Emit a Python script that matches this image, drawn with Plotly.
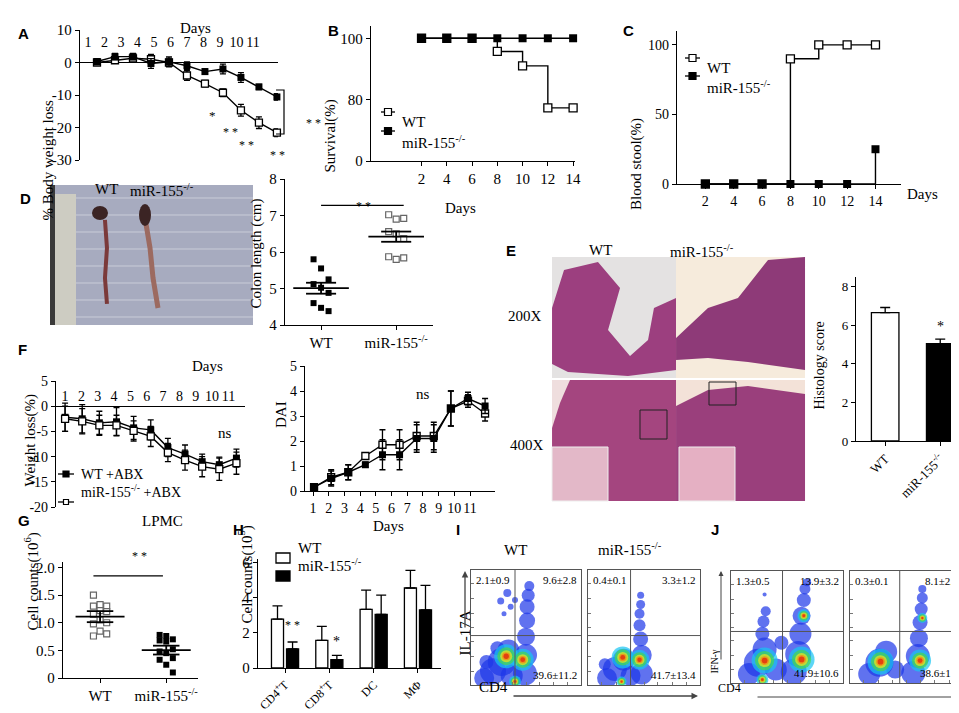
import numpy as np
import plotly.graph_objects as go

W, H = 959, 713

# ---------------- data ----------------
# A  body weight change (%)
a_days = [1, 2, 3, 4, 5, 6, 7, 8, 9, 10, 11]
a_wt = [0.0, 0.7, 1.3, 1.0, 0.0, -4.0, -6.5, -9.3, -14.7, -18.5, -21.6]
a_wt_err = [0.5, 0.5, 0.6, 1.5, 1.0, 1.5, 1.0, 1.2, 1.8, 1.8, 1.2]
a_ko = [0.3, 1.8, 1.8, -0.3, 0.2, -1.0, -2.8, -2.0, -4.6, -7.5, -10.6]
a_ko_err = [0.8, 1.0, 1.0, 1.5, 1.5, 1.2, 0.8, 1.5, 1.5, 0.8, 1.0]

# B  survival (%)
b_days = [2, 4, 6, 8, 10, 12, 14]
b_wt = [100, 100, 100, 95.7, 91, 77.3, 77.3]
b_ko = [100, 100, 100, 100, 100, 100, 100]

# C  blood stool (%)
c_days = [2, 4, 6, 8, 10, 12, 14]
c_wt = [0, 0, 0, 90, 100, 100, 100]
c_ko = [0, 0, 0, 0, 0, 0, 25]

# D  colon length (cm)
groups = ["WT", "miR-155<sup>-/-</sup>"]
d_wt = [5.8, 5.55, 5.25, 5.12, 5.02, 4.88, 4.6, 4.47, 4.38]
d_ko = [7.02, 6.9, 6.92, 6.56, 6.5, 6.37, 5.87, 5.8, 5.84]
d_sem = [0.15, 0.14]

# E  histology score
e_score = [6.65, 5.05]
e_err = [0.27, 0.23]

# F  weight loss with ABX (%) and DAI
f_days = [1, 2, 3, 4, 5, 6, 7, 8, 9, 10, 11]
f_wt = [-2.2, -2.5, -3.3, -3.1, -4.3, -4.7, -8.2, -9.5, -11.0, -11.6, -10.3]
f_wt_err = [2.8, 2.8, 2.3, 2.8, 2.3, 2.0, 1.8, 1.8, 1.5, 1.5, 1.8]
f_ko = [-2.5, -3.0, -3.8, -3.8, -4.9, -6.0, -9.2, -10.7, -12.0, -12.5, -11.3]
f_ko_err = [2.5, 2.5, 2.0, 2.0, 2.0, 2.0, 1.8, 2.0, 2.0, 2.2, 2.2]
dai_wt = [0.15, 0.5, 0.75, 1.05, 1.45, 1.45, 2.1, 2.1, 3.3, 3.7, 3.4]
dai_ko = [0.15, 0.55, 0.75, 1.4, 1.85, 1.85, 2.2, 2.2, 3.3, 3.6, 3.1]
dai_err = [0.05, 0.3, 0.3, 0.1, 0.6, 0.6, 0.55, 0.55, 0.7, 0.25, 0.3]

# G  LPMC counts (10^6)
g_wt = [1.5, 1.33, 1.3, 1.3, 1.22, 1.2, 1.15, 1.05, 1.0, 0.98, 0.85, 0.8, 0.76]
g_ko = [0.78, 0.76, 0.7, 0.68, 0.66, 0.52, 0.48, 0.45, 0.36, 0.33, 0.24, 0.1]
g_sem = [0.1, 0.08]

# H  cell counts (10^5)
h_cells = ["CD4<sup>+</sup>T", "CD8<sup>+</sup>T", "DC", "MΦ"]
h_wt = [2.78, 1.57, 3.33, 4.55]
h_wt_err = [0.75, 0.8, 1.1, 1.0]
h_ko = [1.08, 0.47, 3.05, 3.3]
h_ko_err = [0.4, 0.25, 1.1, 1.4]

# I / J  flow quadrant percentages (UL, UR, LR)
i_wt_q = ["2.1±0.9", "9.6±2.8", "39.6±11.2"]
i_ko_q = ["0.4±0.1", "3.3±1.2", "41.7±13.4"]
j_wt_q = ["1.3±0.5", "13.9±3.2", "41.9±10.6"]
j_ko_q = ["0.3±0.1", "8.1±2.1", "38.6±11."]

# density blobs seen in the flow plots: (x, y, size) in gate units
i_wt_blue = [(0.12, 0.06, 20), (0.2, 0.12, 26), (0.28, 0.2, 28), (0.34, 0.3, 22), (0.14, 0.2, 14),
             (0.24, 0.32, 14), (0.37, 0.08, 22), (0.49, 0.1, 24), (0.5, 0.26, 22), (0.5, 0.42, 18),
             (0.51, 0.56, 16), (0.51, 0.68, 15), (0.52, 0.78, 13), (0.53, 0.86, 10),
             (0.27, 0.73, 7), (0.33, 0.8, 8), (0.36, 0.68, 6), (0.4, 0.74, 6), (0.3, 0.62, 5)]
i_wt_core = [(0.32, 0.25, 24), (0.47, 0.22, 22), (0.4, 0.03, 12)]
i_ko_blue = [(0.17, 0.06, 20), (0.24, 0.14, 24), (0.32, 0.22, 22), (0.15, 0.18, 12), (0.38, 0.08, 20),
             (0.48, 0.1, 22), (0.48, 0.26, 20), (0.47, 0.4, 15), (0.46, 0.52, 12), (0.46, 0.62, 10),
             (0.47, 0.7, 9), (0.47, 0.78, 7)]
i_ko_core = [(0.31, 0.24, 22), (0.46, 0.22, 20), (0.3, 0.03, 10)]
j_wt_blue = [(0.16, 0.08, 22), (0.24, 0.18, 28), (0.3, 0.3, 24), (0.28, 0.44, 14), (0.29, 0.55, 12),
             (0.31, 0.64, 10), (0.4, 0.12, 22), (0.56, 0.1, 26), (0.6, 0.26, 26), (0.62, 0.44, 22),
             (0.63, 0.6, 18), (0.65, 0.74, 14), (0.66, 0.84, 11), (0.68, 0.9, 8), (0.45, 0.36, 14),
             (0.3, 0.79, 4)]
j_wt_core = [(0.3, 0.2, 26), (0.63, 0.21, 26), (0.65, 0.6, 13), (0.28, 0.03, 12)]
j_ko_blue = [(0.17, 0.08, 22), (0.26, 0.18, 28), (0.32, 0.28, 22), (0.4, 0.12, 18), (0.56, 0.09, 24),
             (0.6, 0.24, 24), (0.61, 0.4, 18), (0.62, 0.54, 15), (0.63, 0.66, 13), (0.64, 0.76, 11),
             (0.64, 0.84, 8)]
j_ko_core = [(0.27, 0.19, 26), (0.62, 0.2, 22), (0.64, 0.58, 10)]

# ---------------- helpers ----------------
SERIF = "Liberation Serif"

def X(px): return px / W
def Y(py): return 1 - py / H
def xd(a, b): return [a / W, b / W]
def yd(top, bot): return [1 - bot / H, 1 - top / H]

def axis(dom, rng, fs=15, **kw):
    d = dict(domain=dom, range=rng, showline=True, linecolor="black", linewidth=1.3,
             ticks="outside", ticklen=4, tickwidth=1.3, tickcolor="black", tickangle=0,
             showgrid=False, zeroline=False, tickfont=dict(size=fs, family=SERIF, color="black"))
    d.update(kw)
    return d

def txt(x, y, s, size=15, **kw):
    d = dict(x=X(x), y=Y(y), xref="paper", yref="paper", text=s, showarrow=False,
             font=dict(size=size, family=SERIF, color="black"))
    d.update(kw)
    return d

def letter(x, y, s):
    return txt(x, y, "<b>%s</b>" % s, font=dict(size=15, family="Liberation Sans", color="black"))

def path(pts, close=False):
    s = "M " + " L ".join("%.4f %.4f" % (X(a), Y(b)) for a, b in pts)
    return s + (" Z" if close else "")

EB = dict(type="data", color="black", thickness=1.3, width=3)
FILLED = dict(symbol="square", size=7, color="black")
OPEN = dict(symbol="square", size=7, color="white", line=dict(color="black", width=1.3))

fig = go.Figure()

def line_tr(x, y, err, mk, ax, shape="linear"):
    fig.add_trace(go.Scatter(
        x=x, y=y, mode="lines+markers", showlegend=False,
        line=dict(color="black", width=1.4, shape=shape), marker=mk, cliponaxis=False,
        error_y=dict(EB, array=err) if err is not None else None,
        xaxis="x" + ax, yaxis="y" + ax))

# A
line_tr(a_days, a_wt, a_wt_err, OPEN, "")
line_tr(a_days, a_ko, a_ko_err, FILLED, "")
# B
line_tr(b_days, b_wt, None, dict(OPEN, size=8), "2", "hv")
line_tr(b_days, b_ko, None, dict(FILLED, size=8), "2", "hv")
# C
line_tr(c_days, c_wt, None, dict(OPEN, size=8), "3", "hv")
line_tr(c_days, c_ko, None, dict(FILLED, size=8), "3", "hv")
# F
line_tr(f_days, f_wt, f_wt_err, FILLED, "6")
line_tr(f_days, f_ko, f_ko_err, OPEN, "6")
line_tr(f_days, dai_ko, dai_err, OPEN, "7")
line_tr(f_days, dai_wt, dai_err, FILLED, "7")

# dot plots D and G
def dots(vals_list, marks, sems, ax):
    jit = [-0.1, 0.0, 0.1]
    for i, (vals, mk) in enumerate(zip(vals_list, marks)):
        xs = [i + jit[k % 3] for k in range(len(vals))]
        fig.add_trace(go.Scatter(x=xs, y=vals, mode="markers", marker=mk, showlegend=False,
                                 xaxis="x" + ax, yaxis="y" + ax))
        m = float(np.mean(vals))
        for yy, half in [(m, 0.37), (m + sems[i], 0.2), (m - sems[i], 0.2)]:
            fig.add_trace(go.Scatter(x=[i - half, i + half], y=[yy, yy], mode="lines",
                                     line=dict(color="black", width=1.8), showlegend=False,
                                     xaxis="x" + ax, yaxis="y" + ax))
        fig.add_trace(go.Scatter(x=[i, i], y=[m - sems[i], m + sems[i]], mode="lines",
                                 line=dict(color="black", width=1.8), showlegend=False,
                                 xaxis="x" + ax, yaxis="y" + ax))

GOPEN = dict(symbol="square", size=6, color="white", line=dict(color="#666", width=1.2))
dots([d_wt, d_ko], [dict(FILLED, size=6), GOPEN], d_sem, "4")
dots([g_wt, g_ko], [GOPEN, dict(FILLED, size=6)], g_sem, "8")
# significance bars
fig.add_trace(go.Scatter(x=[0, 1.1], y=[7.28, 7.28], mode="lines", line=dict(color="black", width=1.2),
                         showlegend=False, xaxis="x4", yaxis="y4"))
fig.add_trace(go.Scatter(x=[-0.1, 0.95], y=[1.85, 1.85], mode="lines", line=dict(color="black", width=1.2),
                         showlegend=False, xaxis="x8", yaxis="y8"))

# E bars
fig.add_trace(go.Bar(x=[0, 1], y=e_score, width=0.5, showlegend=False,
                     marker=dict(color=["white", "black"], line=dict(color="black", width=1.3)),
                     error_y=dict(EB, array=e_err, arrayminus=[0, 0], symmetric=False, width=5),
                     xaxis="x5", yaxis="y5"))
# H bars
fig.add_trace(go.Bar(x=[0, 1, 2, 3], y=h_wt, showlegend=False,
                     marker=dict(color="white", line=dict(color="black", width=1.3)),
                     error_y=dict(EB, array=h_wt_err, arrayminus=[0] * 4, symmetric=False, width=5),
                     xaxis="x9", yaxis="y9"))
fig.add_trace(go.Bar(x=[0, 1, 2, 3], y=h_ko, showlegend=False,
                     marker=dict(color="black", line=dict(color="black", width=1.3)),
                     error_y=dict(EB, array=h_ko_err, arrayminus=[0] * 4, symmetric=False, width=5),
                     xaxis="x9", yaxis="y9"))

# flow density plots
LAYERS = [("#17c4f2", 1.0), ("#46d84a", 0.74), ("#f2e21a", 0.5), ("#ff7d10", 0.34), ("#e01a0c", 0.22)]
def flow(blue, core, ax):
    fig.add_trace(go.Scatter(x=[p[0] for p in blue], y=[p[1] for p in blue], mode="markers",
                             marker=dict(size=[p[2] for p in blue], color="#1c36e8", line_width=0),
                             showlegend=False, xaxis="x" + ax, yaxis="y" + ax))
    for col, f in LAYERS:
        fig.add_trace(go.Scatter(x=[p[0] for p in core], y=[p[1] for p in core], mode="markers",
                                 marker=dict(size=[p[2] * f for p in core], color=col, line_width=0),
                                 showlegend=False, xaxis="x" + ax, yaxis="y" + ax))

flow(i_wt_blue, i_wt_core, "10")
flow(i_ko_blue, i_ko_core, "11")
flow(j_wt_blue, j_wt_core, "12")
flow(j_ko_blue, j_ko_core, "13")

# ---------------- axes ----------------
lay = dict(
    xaxis=axis(xd(72, 270), [0.056, 11.06], fs=14, showline=False, side="top", anchor="free",
               position=Y(42), ticks="", tickvals=[0.5 + 0.917 * k for k in range(11)],
               ticktext=[str(d) for d in a_days]),
    yaxis=axis(yd(22, 152), [-30, 10], tickvals=[-30, -20, -10, 0, 10],
               ticktext=["-30", "-20", "-10", "0", "10"], zeroline=True,
               zerolinecolor="black", zerolinewidth=1.3, anchor="x"),
    xaxis2=axis(xd(363, 567), [-2, 14.15], tickvals=b_days, anchor="y2"),
    yaxis2=axis(yd(18, 153), [60, 104], tickvals=[60, 80, 100], ticktext=["0", "80", "100"], anchor="x2"),
    xaxis3=axis(xd(669, 893), [0, 15.8], fs=14, tickvals=c_days, anchor="y3"),
    yaxis3=axis(yd(23, 176), [0, 110], fs=14, tickvals=[0, 50, 100], anchor="x3"),
    xaxis4=axis(xd(277, 425), [-0.48, 1.49], tickvals=[0, 1], ticktext=groups, anchor="y4"),
    yaxis4=axis(yd(171, 317), [4, 8], tickvals=[4, 5, 6, 7, 8], anchor="x4"),
    xaxis5=axis(xd(848, 957), [-0.53, 1.45], fs=13, tickvals=[0, 1], ticktext=groups, tickangle=-45,
                anchor="y5"),
    yaxis5=axis(yd(269, 433), [0, 8.5], fs=13, tickvals=[0, 2, 4, 6, 8], anchor="x5"),
    xaxis6=axis(xd(48, 237), [0.47, 11.5], fs=14, showline=False, side="top", anchor="free",
                position=Y(396), ticks="", tickvals=[1 + 0.953 * k for k in range(11)],
                ticktext=[str(d) for d in f_days]),
    yaxis6=axis(yd(373, 499), [-20, 5], fs=14, tickvals=[-20, -15, -10, -5, 0, 5],
                ticktext=["-20", "-15", "-10", "-5", "0", "5"], zeroline=True,
                zerolinecolor="black", zerolinewidth=1.3, anchor="x6"),
    xaxis7=axis(xd(297, 487), [0.47, 11.58], fs=14, tickvals=[0.94 + 0.918 * k for k in range(11)],
                ticktext=[str(d) for d in f_days], anchor="y7"),
    yaxis7=axis(yd(358, 483), [0, 5], fs=14, tickvals=[0, 1, 2, 3, 4, 5], anchor="x7"),
    xaxis8=axis(xd(55, 190), [-0.56, 1.48], tickvals=[0, 1], ticktext=groups, anchor="y8"),
    yaxis8=axis(yd(554, 670), [0, 2.1], tickvals=[0, 0.5, 1, 1.5, 2],
                ticktext=["0", "0.5", "1.0", "1.5", "2.0"], anchor="x8"),
    xaxis9=axis(xd(250, 433), [-0.61, 3.52], fs=12, tickvals=[0, 1, 2, 3], ticktext=h_cells,
                tickangle=-45, anchor="y9"),
    yaxis9=axis(yd(551, 660), [0, 6.2], tickvals=[0, 2, 4, 6], anchor="x9"),
)
flow_boxes = {"10": (463, 573, 562, 677), "11": (580, 692, 562, 677),
              "12": (723, 835, 563, 675), "13": (842, 955, 563, 675)}
FT = [0.12, 0.25, 0.38, 0.5, 0.62, 0.75, 0.88]
for k, (x0, x1, t, b) in flow_boxes.items():
    lay["xaxis" + k] = axis(xd(x0, x1), [0, 1], showticklabels=False, ticks="inside", ticklen=3,
                            tickwidth=1, tickcolor="#777", tickvals=FT, mirror=True,
                            linecolor="#555", linewidth=1, anchor="y" + k)
    lay["yaxis" + k] = axis(yd(t, b), [0, 1], showticklabels=False, ticks="inside", ticklen=3,
                            tickwidth=1, tickcolor="#777", tickvals=FT, mirror=True,
                            linecolor="#555", linewidth=1, anchor="x" + k)

# ---------------- shapes ----------------
shapes = []
ann = []

def rect(x0, y0, x1, y1, fill, line=None):
    return dict(type="rect", xref="paper", yref="paper", x0=X(x0), x1=X(x1), y0=Y(y1), y1=Y(y0),
                fillcolor=fill, line=dict(width=0) if line is None else line)

def poly(pts, fill):
    return dict(type="path", xref="paper", yref="paper", path=path(pts, True),
                fillcolor=fill, line=dict(width=0))

def seg(x0, y0, x1, y1, color="black", width=1.3):
    return dict(type="line", xref="paper", yref="paper", x0=X(x0), x1=X(x1), y0=Y(y0), y1=Y(y1),
                line=dict(color=color, width=width))

# hand-drawn legend keys, as in the original figure
def key_line(x0, x1, y, filled, label, s=3.5, fs=15):
    xm = (x0 + x1) / 2
    shapes.append(seg(x0, y, x1, y))
    shapes.append(rect(xm - s, y - s, xm + s, y + s, "black" if filled else "white",
                       dict(color="black", width=1.2)))
    ann.append(txt(x1 + 5, y, label, fs, xanchor="left"))

def key_box(x0, x1, y, filled, label, fs=15):
    shapes.append(rect(x0, y - 5, x1, y + 5, "black" if filled else "white", dict(color="black", width=1.3)))
    ann.append(txt(x1 + 6, y, label, fs, xanchor="left"))

key_line(373, 387, 104, False, "WT")
key_line(373, 387, 123, True, "miR-155<sup>-/-</sup>")
key_line(677, 692, 50, False, "WT")
key_line(677, 692, 68, True, "miR-155<sup>-/-</sup>")
key_line(50, 66, 466, True, "WT +ABX", 3, 14)
key_line(50, 66, 494, False, "miR-155<sup>-/-</sup> +ABX", 2.5, 14)
key_box(268, 282, 550, False, "WT")
key_box(268, 282, 568, True, "miR-155<sup>-/-</sup>")

# A bracket
shapes.append(dict(type="path", xref="paper", yref="paper",
                   path=path([(268, 82), (276, 82), (276, 126), (268, 126)]),
                   line=dict(color="black", width=1.2)))
# quadrant gates
gates = {"10": (0.4, 0.43), "11": (0.38, 0.43), "12": (0.46, 0.46), "13": (0.44, 0.46)}
for k, (gx, gy) in gates.items():
    shapes.append(dict(type="line", xref="x" + k, yref="y" + k, x0=gx, x1=gx, y0=0, y1=1,
                       line=dict(color="#555", width=1)))
    shapes.append(dict(type="line", xref="x" + k, yref="y" + k, x0=0, x1=1, y0=gy, y1=gy,
                       line=dict(color="#555", width=1)))

# D photo
shapes.append(rect(42, 177, 245, 317, "#a7abbf"))
for yy in range(190, 317, 17):
    shapes.append(seg(66, yy, 245, yy, "#c9ccd8", 1))
shapes.append(rect(42, 186, 68, 317, "#cdccc2"))
shapes.append(rect(42, 177, 47, 317, "#3a3a3a"))
shapes.append(dict(type="path", xref="paper", yref="paper",
                   path=path([(97, 212), (99, 240), (97, 270), (99, 296)]),
                   line=dict(color="#7b3a3a", width=4)))
shapes.append(dict(type="circle", xref="paper", yref="paper", x0=X(84), x1=X(100), y0=Y(212), y1=Y(198),
                   fillcolor="#3b2424", line=dict(width=0)))
shapes.append(dict(type="path", xref="paper", yref="paper",
                   path=path([(137, 210), (142, 240), (145, 270), (150, 300)]),
                   line=dict(color="#9c6a60", width=5)))
shapes.append(dict(type="circle", xref="paper", yref="paper", x0=X(131), x1=X(143), y0=Y(218), y1=Y(196),
                   fillcolor="#3b2424", line=dict(width=0)))

# E histology
shapes.append(rect(544, 249, 668, 370, "#e4e2e2"))
shapes.append(poly([(544, 300), (556, 262), (590, 254), (612, 280), (600, 322), (622, 348), (640, 332),
                    (646, 300), (668, 290), (668, 362), (620, 368), (560, 364), (544, 356)], "#9c3f7f"))
shapes.append(rect(668, 249, 797, 370, "#f6ebdc"))
shapes.append(poly([(668, 330), (700, 300), (730, 290), (760, 252), (797, 249), (797, 362), (740, 354),
                    (700, 350), (668, 352)], "#8e3a78"))
shapes.append(rect(544, 372, 668, 493, "#efdede"))
shapes.append(poly([(562, 372), (668, 372), (668, 493), (544, 493), (544, 420), (552, 395)], "#a4457f"))
shapes.append(rect(544, 439, 600, 493, "#e3b8c8", dict(color="#eeeeee", width=1)))
shapes.append(rect(668, 372, 797, 493, "#f3e2d8"))
shapes.append(poly([(668, 398), (700, 382), (740, 378), (797, 386), (797, 493), (668, 493)], "#9a3f7c"))
shapes.append(rect(671, 439, 727, 493, "#e5b0c3", dict(color="#eeeeee", width=1)))
shapes.append(rect(632, 402, 659, 431, "rgba(0,0,0,0)", dict(color="#222", width=1)))
shapes.append(rect(701, 374, 728, 397, "rgba(0,0,0,0)", dict(color="#222", width=1)))

# ---------------- annotations ----------------
ann += [
    letter(8, 15, "A"), letter(318, 12, "B"), letter(620, 12, "C"), letter(10, 180, "D"),
    letter(503, 232, "E"), letter(8, 342, "F"), letter(8, 523, "G"), letter(223, 532, "H"),
    letter(450, 532, "I"), letter(713, 532, "J"),
    txt(170, 10, "Days"),
    txt(29, 90, "% Body weight loss", textangle=-90),
    txt(199, 98, "*", 13), txt(213, 115, "* *", 12), txt(229, 128, "* *", 12), txt(260, 138, "* *", 12),
    txt(296, 106, "* *", 12),
    txt(322, 90, "Survival(%)", textangle=-90),
    txt(452, 190, "Days"),
    txt(628, 108, "Blood stool(%)", textangle=-90),
    txt(897, 176, "Days", xanchor="left"),
    txt(85, 171, "WT"), txt(120, 171, "miR-155<sup>-/-</sup>"),
    txt(238, 246, "Colon length (cm)", textangle=-90),
    txt(355, 189, "* *", 12),
    txt(592, 232, "WT"), txt(728, 232, "miR-155<sup>-/-</sup>"),
    txt(517, 308, "200X"), txt(519, 437, "400X"),
    txt(820, 358, "Histology score", 14, textangle=-90),
    dict(x=1, y=5.95, xref="x5", yref="y5", text="*", showarrow=False, font=dict(size=14, family=SERIF)),
    txt(11, 432, "Weight loss(%)", textangle=-90),
    txt(182, 358, "Days"), txt(208, 425, "ns"),
    txt(263, 407, "DAI", textangle=-90), txt(415, 386, "ns"), txt(380, 528, "Days"),
    txt(132, 523, "LPMC"),
    txt(12, 625, "Cell counts(10<sup>6</sup>)", textangle=-90),
    txt(122, 557, "* *", 12),
    txt(226, 618, "Cell counts(10<sup>5</sup>)", textangle=-90),
    dict(x=0.17, y=1.95, xref="x9", yref="y9", text="* *", showarrow=False, yanchor="bottom",
         font=dict(size=12, family=SERIF)),
    dict(x=1.17, y=0.95, xref="x9", yref="y9", text="*", showarrow=False, yanchor="bottom",
         font=dict(size=14, family=SERIF)),
    txt(507, 552, "WT"), txt(622, 552, "miR-155<sup>-/-</sup>"),
    txt(456, 650, "IL-17A", textangle=-90),
    txt(485, 689, "CD4"),
    txt(713, 668, "IFN-γ", 10, textangle=-90),
    txt(735, 689, "CD4", 12),
    # axis arrows for flow plots
    dict(x=X(457), y=Y(563), xref="paper", yref="paper", ax=0, ay=58, text="", showarrow=True,
         arrowhead=2, arrowwidth=1.3, arrowsize=1),
    dict(x=X(690), y=Y(688), xref="paper", yref="paper", ax=-186, ay=0, text="", showarrow=True,
         arrowhead=2, arrowwidth=1.3, arrowsize=1),
    dict(x=X(713), y=Y(563), xref="paper", yref="paper", ax=0, ay=90, text="", showarrow=True,
         arrowhead=2, arrowwidth=1, arrowsize=1),
    dict(x=X(953), y=Y(689), xref="paper", yref="paper", ax=-205, ay=0, text="", showarrow=True,
         arrowhead=2, arrowwidth=1, arrowsize=1),
]
for k, q in zip(["10", "11", "12", "13"], [i_wt_q, i_ko_q, j_wt_q, j_ko_q]):
    f = dict(size=11, family=SERIF, color="black")
    ann.append(dict(x=0.03, y=0.98, xref="x" + k, yref="y" + k, text=q[0], showarrow=False,
                    xanchor="left", yanchor="top", font=f))
    ann.append(dict(x=0.98, y=0.98, xref="x" + k, yref="y" + k, text=q[1], showarrow=False,
                    xanchor="right", yanchor="top", font=f))
    ann.append(dict(x=0.98, y=0.02, xref="x" + k, yref="y" + k, text=q[2], showarrow=False,
                    xanchor="right", yanchor="bottom", font=f))

fig.update_layout(
    template="none", width=W, height=H, margin=dict(l=0, r=0, t=0, b=0),
    paper_bgcolor="white", plot_bgcolor="white", showlegend=False,
    font=dict(family=SERIF, size=15, color="black"),
    barmode="group", bargap=0.32, bargroupgap=0.2,
    shapes=shapes, annotations=ann, **lay)

fig.write_html("out.html")
